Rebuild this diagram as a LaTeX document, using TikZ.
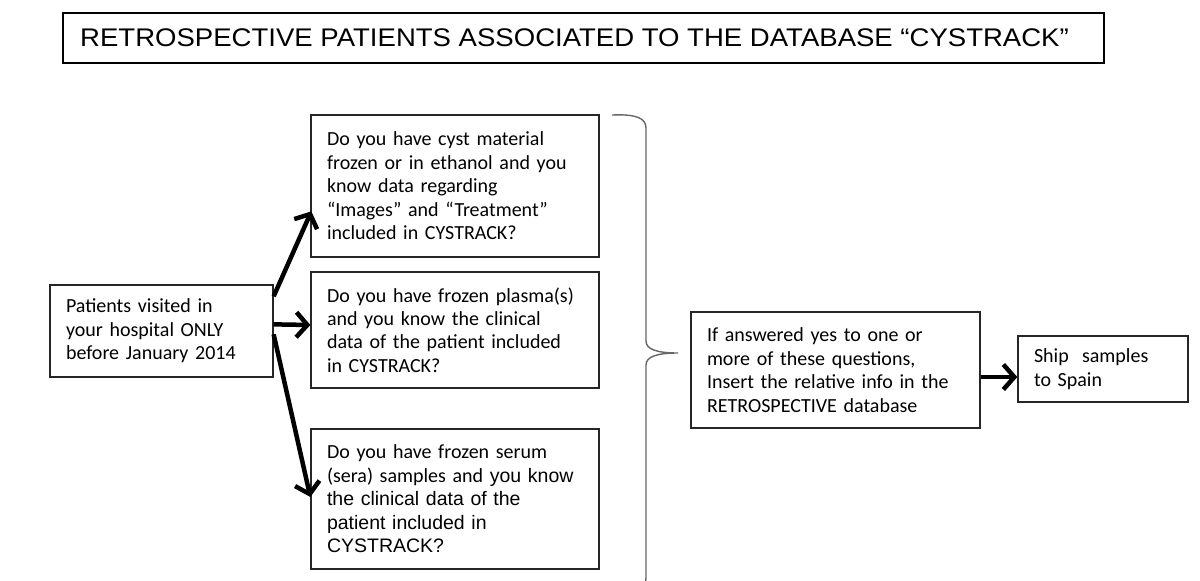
\documentclass[tikz,border=0pt]{standalone}
\usepackage{fontspec}
\setmainfont{Carlito}
\newfontfamily\arialf{Liberation Sans}
\usetikzlibrary{arrows.meta,calc}
\begin{document}
\begin{tikzpicture}[x=1pt,y=-1pt,
  box/.style={draw=black!85,line width=1.3pt,inner xsep=16pt,inner ysep=0pt,align=left,
    font=\fontsize{20}{23.5}\selectfont},
  bigarrow/.style={line width=4.5pt,-{Straight Barb[length=11pt,width=25pt]}},
  bracepath/.style={draw=black!60,line width=1.4pt},
  ]
\useasboundingbox (0,0) rectangle (1200,581);
\node[draw=black,line width=2.8pt,minimum width=1041pt,minimum height=50pt,inner sep=0pt,
  font=\arialf\fontsize{25.5}{30}\selectfont] (title) at (583.5,38)
  {\scalebox{1.08}[1]{RETROSPECTIVE PATIENTS ASSOCIATED TO THE DATABASE “CYSTRACK”}\hspace*{18pt}};

\node[box,text width=191pt,minimum height=92pt] (pat) at (161.5,331)
  {Patients visited in\\your hospital ONLY\\before January 2014};
\node[box,text width=256pt,minimum height=142pt] (q1) at (455,186)
  {Do you have cyst material\\frozen or in ethanol and you\\know data regarding\\“Images” and “Treatment”\\included in CYSTRACK?};
\node[box,text width=256pt,minimum height=116pt] (q2) at (455,330)
  {Do you have frozen plasma(s)\\and you know the clinical\\data of the patient included\\in CYSTRACK?};
\node[box,text width=256pt,minimum height=140pt] (q3) at (455,499)
  {Do you have frozen serum\\(sera) samples and {\arialf\fontsize{19.5}{23.5}\selectfont you know}\\{\arialf\fontsize{19.5}{23.5}\selectfont the clinical data of the\\patient included in\\CYSTRACK?}};
\node[box,text width=257pt,minimum height=116pt] (mid) at (835.5,370)
  {If answered yes to one or\\more of these questions,\\Insert the relative info in the\\RETROSPECTIVE database};
\node[box,text width=138pt,minimum height=66pt] (ship) at (1103,369)
  {Ship~ samples\\to Spain};

\draw[bigarrow] ($(pat.north east)+(0,12)$) -- ($(q1.north west)+(1,97)$);
\draw[bigarrow] ($(pat.north east)+(0,40)$) -- ($(q2.west)+(0,-5)$);
\draw[bigarrow] ($(pat.north east)+(0,50)$) -- ($(q3.west)+(0,-2)$);
\draw[bigarrow] ($(mid.east)+(0,7)$) -- ($(ship.west)+(0,8)$);

\begin{scope}
\clip (0,0) rectangle (1200,581);
\coordinate (btop) at (612,115);
\coordinate (btip) at (678,353);
\coordinate (bbot) at (612,591);
\path[bracepath] (btop) .. controls (636,114) and (646,118) .. (646,128) -- (646,341)
  .. controls (646,349) and (656,353) .. (btip)
  .. controls (656,353) and (646,357) .. (646,365) -- (646,578)
  .. controls (646,588) and (636,592) .. (bbot);
\end{scope}
\end{tikzpicture}
\end{document}
